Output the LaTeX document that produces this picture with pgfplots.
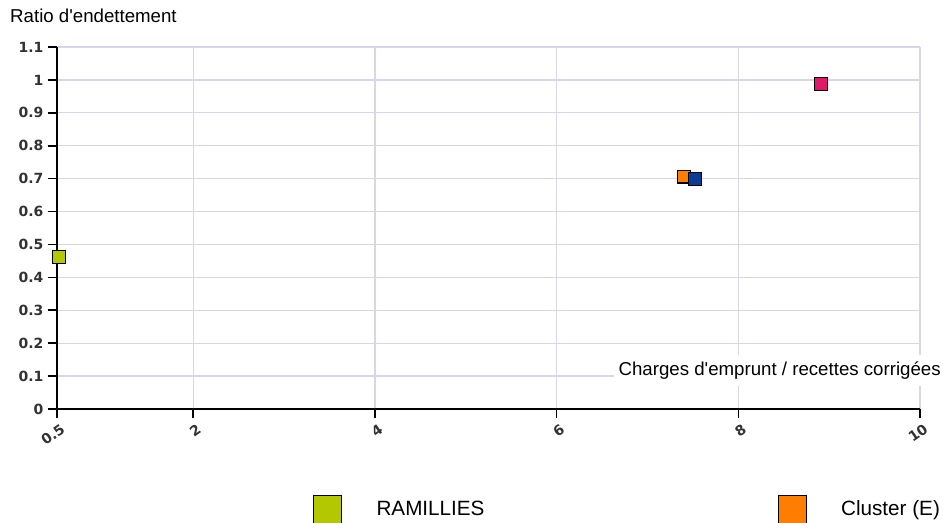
\documentclass[border=0pt]{standalone}
\usepackage{fontspec}
\setmainfont{Liberation Sans}[Ligatures=TeXOff]
\newfontfamily\tickfont{DejaVu Sans}
\usepackage{pgfplots}
\pgfplotsset{compat=1.18}
\definecolor{gridc}{RGB}{214,214,232}
\definecolor{cgreen}{RGB}{180,200,0}
\definecolor{corange}{RGB}{255,125,0}
\definecolor{cblue}{RGB}{10,60,150}
\definecolor{cpink}{RGB}{225,25,105}
\definecolor{tickc}{RGB}{50,50,50}
\begin{document}
\begin{tikzpicture}
\useasboundingbox (0,0) rectangle (707.25pt,392.25pt);
\begin{axis}[
  at={(42.75pt,85.5pt)}, anchor=south west,
  scale only axis, width=647.25pt, height=271.5pt,
  xmin=0.5, xmax=10, ymin=0, ymax=1.1,
  xtick={0.5,2,4,6,8,10},
  ytick={0,0.1,0.2,0.3,0.4,0.5,0.6,0.7,0.8,0.9,1,1.1},
  grid=major, major grid style={gridc, line width=1pt},
  axis x line*=bottom, axis y line*=left,
  axis line style={-, black, line width=1.5pt},
  tick align=outside, major tick length=7pt,
  tick style={black, line width=1.2pt},
  /pgf/number format/assume math mode=true,
  yticklabel style={font={\tickfont\bfseries\fontsize{10.5}{12}\selectfont}, text=tickc, inner sep=3pt},
  xticklabel style={font={\tickfont\bfseries\fontsize{10.5}{12}\selectfont}, text=tickc, rotate=35, anchor=north east, inner sep=1pt, xshift=1pt, yshift=-3pt},
  clip=false,
  legend columns=2,
  legend cell align=left,
  legend style={draw=none, fill=none, inner sep=0pt, outer sep=0pt,
    at={(0.2966,-0.2376)}, anchor=north west, column sep=0pt,
    nodes={inner sep=0pt, outer sep=0pt},
    font=\fontsize{15.5}{18}\selectfont},
]
\addplot[only marks, mark=square*, mark size=4.8pt,
  mark options={fill=cgreen, draw=black, line width=0.9pt},
  legend image code/.code={\draw[black, line width=0.5pt, fill=cgreen] (0pt,-10.5pt) rectangle (21pt,10.5pt); \path (47.25pt,0pt);}]
  coordinates {(0.52,0.462)};
\addlegendentry{\makebox[300.75pt][l]{RAMILLIES}}
\addplot[only marks, mark=square*, mark size=4.8pt,
  mark options={fill=corange, draw=black, line width=0.9pt},
  legend image code/.code={\draw[black, line width=0.5pt, fill=corange] (0pt,-10.5pt) rectangle (21pt,10.5pt); \path (47.25pt,0pt);}]
  coordinates {(7.405,0.706)};
\addlegendentry{\makebox[300.75pt][l]{Cluster (E)}}
\addplot[only marks, mark=square*, mark size=4.8pt,
  mark options={fill=cblue, draw=black, line width=0.9pt}]
  coordinates {(7.52,0.698)};
\addplot[only marks, mark=square*, mark size=4.8pt,
  mark options={fill=cpink, draw=black, line width=0.9pt}]
  coordinates {(8.91,0.987)};
\node[anchor=base west, font=\fontsize{14}{16}\selectfont, inner sep=0pt]
  at (axis description cs:-0.0545,1.0671) {Ratio d'endettement};
\node[anchor=east, fill=white, inner xsep=3.75pt, inner ysep=0pt, minimum height=23.25pt, font=\fontsize{14}{16}\selectfont]
  at (axis description cs:1.0301,0.1064) {Charges d'emprunt / recettes corrigées};
\end{axis}
\end{tikzpicture}
\end{document}
